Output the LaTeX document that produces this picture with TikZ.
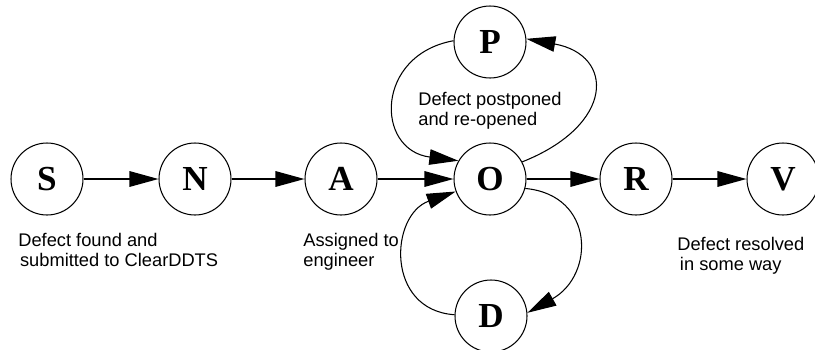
\documentclass[tikz,border=0pt]{standalone}
\usepackage{fontspec}
\setmainfont{Liberation Sans}
\newfontfamily\statefont{Liberation Serif}
\usetikzlibrary{arrows.meta}
\begin{document}
\begin{tikzpicture}[x=0.02cm,y=-0.02cm,
    state/.style={draw,circle,line width=0.6pt,minimum size=1.44cm,inner sep=0pt,
      font=\statefont\fontsize{20}{20}\selectfont\bfseries},
    note/.style={anchor=north west,align=left,inner sep=0pt,
      font=\fontsize{10.4}{11.6}\selectfont},
    >={Triangle[length=0.58cm,width=0.31cm]}]
  \useasboundingbox (0,0) rectangle (815,349);
  \draw
    (47,179) node[state] (S){S}
    (195,179) node[state] (N){N}
    (341,179) node[state] (A){A}
    (490,179) node[state] (O){O}
    (636,179) node[state] (R){R}
    (783,179) node[state] (V){V}
    (490,42) node[state] (P){P}
    (491,316) node[state] (D){D};
  \node[note] (lS) at (18,233) {Defect found and\\\hspace{1pt}submitted to ClearDDTS};
  \node[note] (lA) at (303,233) {Assigned to\\engineer};
  \node[note] (lP) at (418,92) {Defect postponed\\and re-opened};
  \node[note] (lR) at (677,237) {Defect resolved\\\hspace{1.5pt}in some way};
  \begin{scope}[->,line width=0.9pt]
    \draw (S) to (N);
    \draw (N) to (A);
    \draw (A) to (O);
    \draw (O) to (R);
    \draw (R) to (V);
  \end{scope}
  \begin{scope}[->,line width=0.6pt]
    \draw (O.28) .. controls (615,125) and (615,55) .. (P.5);
    \draw (P.178) .. controls (375,55) and (375,150) .. (O.150);
    \draw (O.-15) .. controls (595,195) and (595,275) .. (D.5);
    \draw (D.178) .. controls (385,310) and (390,215) .. (O.200);
  \end{scope}
\end{tikzpicture}
\end{document}
